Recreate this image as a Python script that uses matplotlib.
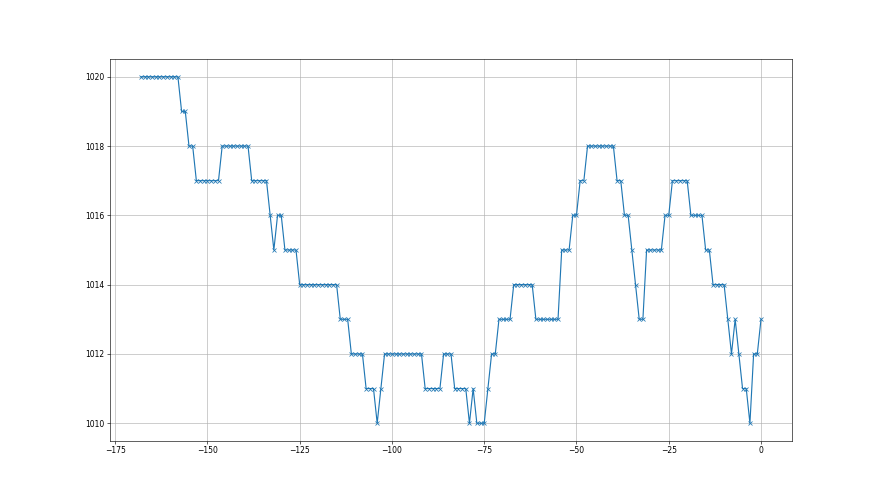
import numpy as np
import matplotlib
matplotlib.use('Agg')
import matplotlib.pyplot as plt

# hours relative to now, one reading per hour
hours = np.arange(-168, 1)

# pressure readings (hPa), 13 per row
pressure = [
    1020, 1020, 1020, 1020, 1020, 1020, 1020, 1020, 1020, 1020, 1020, 1019, 1019,  # -168..-156
    1018, 1018, 1017, 1017, 1017, 1017, 1017, 1017, 1017, 1018, 1018, 1018, 1018,  # -155..-143
    1018, 1018, 1018, 1018, 1017, 1017, 1017, 1017, 1017, 1016, 1015, 1016, 1016,  # -142..-130
    1015, 1015, 1015, 1015, 1014, 1014, 1014, 1014, 1014, 1014, 1014, 1014, 1014,  # -129..-117
    1014, 1014, 1013, 1013, 1013, 1012, 1012, 1012, 1012, 1011, 1011, 1011, 1010,  # -116..-104
    1011, 1012, 1012, 1012, 1012, 1012, 1012, 1012, 1012, 1012, 1012, 1012, 1011,  # -103..-91
    1011, 1011, 1011, 1011, 1012, 1012, 1012, 1011, 1011, 1011, 1011, 1010, 1011,  # -90..-78
    1010, 1010, 1010, 1011, 1012, 1012, 1013, 1013, 1013, 1013, 1014, 1014, 1014,  # -77..-65
    1014, 1014, 1014, 1013, 1013, 1013, 1013, 1013, 1013, 1013, 1015, 1015, 1015,  # -64..-52
    1016, 1016, 1017, 1017, 1018, 1018, 1018, 1018, 1018, 1018, 1018, 1018, 1017,  # -51..-39
    1017, 1016, 1016, 1015, 1014, 1013, 1013, 1015, 1015, 1015, 1015, 1015, 1016,  # -38..-26
    1016, 1017, 1017, 1017, 1017, 1017, 1016, 1016, 1016, 1016, 1015, 1015, 1014,  # -25..-13
    1014, 1014, 1014, 1013, 1012, 1013, 1012, 1011, 1011, 1010, 1012, 1012, 1013,  # -12..0
]

fig, ax = plt.subplots(figsize=(16, 9), dpi=55)
ax.plot(hours, pressure, marker='x')
ax.grid(True)

fig.savefig('out.png', dpi=55)
